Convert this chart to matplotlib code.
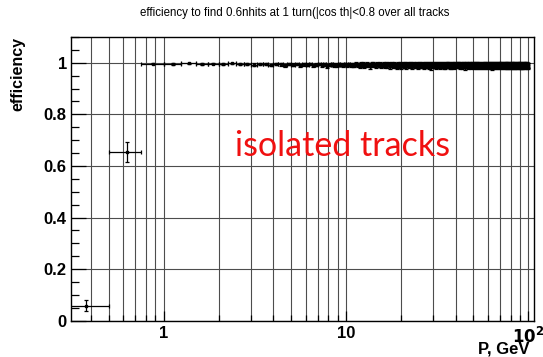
import numpy as np
import matplotlib
matplotlib.use("Agg")
import matplotlib.pyplot as plt
from matplotlib.ticker import FixedLocator, FuncFormatter, LogLocator, NullFormatter

# ── Data ──────────────────────────────────────────────────────────────────────

# momentum histogram: fixed 0.25 GeV bins starting at 0.25 GeV
p_first = 0.25
p_bin = 0.25

# two lowest bins (0.25-0.5, 0.5-0.75 GeV)
low_eff = [0.058, 0.653]
low_err = [0.021, 0.039]

# bins from 0.75 GeV up to 100 GeV: inefficiency and error in per mille
deficit_pm = [
    3, 4, 2, 5, 3, 4, 2, 6, 4, 7, 3, 5, 8, 4, 6, 10, 5, 7, 4, 9,
    6, 8, 5, 10, 7, 4, 9, 6, 11, 7, 5, 8, 10, 6, 7, 9, 5, 8, 6, 10,
    7, 9, 6, 8, 11, 5, 7, 10, 8, 6, 9, 12, 7, 5, 8, 10, 6, 9, 7, 11,
    8, 6, 10, 7, 9, 5, 12, 8, 6, 9, 7, 10, 8, 11, 6, 9, 7, 13, 8, 6,
    9, 7, 11, 6, 8, 10, 7, 9, 5, 12, 8, 7, 10, 6, 9, 8, 11, 7, 9, 6,
    10, 8, 6, 9, 12, 7, 8, 10, 6, 9, 11, 7, 8, 14, 6, 9, 7, 10, 8, 9,
    7, 11, 8, 6, 10, 9, 7, 12, 8, 9, 6, 10, 8, 7, 11, 9, 6, 13, 8, 7,
    9, 6, 10, 8, 7, 11, 9, 8, 12, 6, 9, 10, 7, 8, 11, 6, 9, 8, 10, 7,
    8, 10, 7, 9, 6, 12, 8, 10, 7, 9, 11, 6, 8, 9, 10, 7, 15, 8, 9, 6,
    10, 7, 9, 8, 11, 6, 9, 10, 8, 7, 12, 9, 6, 10, 8, 9, 7, 11, 8, 10,
    7, 9, 11, 8, 6, 10, 9, 7, 12, 8, 9, 10, 6, 8, 11, 7, 9, 8, 10, 13,
    9, 8, 6, 10, 9, 7, 11, 8, 10, 6, 9, 8, 12, 7, 9, 10, 8, 6, 11, 9,
    8, 10, 9, 7, 11, 8, 6, 9, 10, 8, 14, 7, 9, 8, 10, 6, 9, 11, 8, 7,
    10, 8, 9, 11, 7, 9, 8, 10, 6, 9, 12, 8, 7, 10, 9, 8, 11, 7, 9, 10,
    7, 9, 10, 8, 12, 6, 9, 8, 10, 9, 7, 11, 8, 9, 6, 10, 8, 12, 9, 7,
    9, 11, 8, 7, 10, 9, 8, 13, 7, 9, 10, 8, 6, 11, 9, 8, 10, 7, 9, 12,
    8, 7, 10, 9, 8, 11, 7, 9, 10, 8, 6, 12, 9, 8, 10, 7, 9, 11, 8, 9,
    10, 9, 7, 11, 8, 9, 10, 6, 9, 8, 12, 7, 10, 9, 8, 11, 9, 7, 10, 8,
    9, 8, 11, 7, 10, 9, 8, 12, 9, 7, 10, 8, 9, 11, 7, 9, 10,
    8, 10, 9, 7, 11, 8, 9, 10, 7, 9, 8, 12, 9, 8, 10, 7, 9, 11, 8, 10,
]
err_pm = [
    3, 3, 3, 4, 3, 4, 3, 4, 4, 5, 4, 4, 5, 4, 5, 6, 5, 5, 4, 6,
    5, 6, 5, 7, 6, 5, 7, 6, 8, 7, 6, 7, 8, 7, 7, 8, 6, 7, 7, 8,
    8, 9, 8, 9, 10, 8, 9, 10, 9, 8, 9, 11, 9, 8, 9, 10, 8, 9, 9, 11,
    9, 8, 11, 9, 10, 8, 12, 9, 8, 10, 9, 11, 9, 12, 8, 10, 9, 12, 9, 8,
    10, 9, 12, 8, 9, 11, 9, 10, 8, 12, 9, 9, 11, 8, 10, 9, 12, 9, 10, 8,
    11, 9, 8, 10, 12, 9, 9, 11, 8, 10, 12, 9, 9, 13, 8, 10, 9, 11, 9, 10,
    9, 12, 9, 8, 11, 10, 9, 12, 9, 10, 8, 11, 9, 9, 12, 10, 8, 13, 9, 9,
    10, 8, 11, 9, 9, 12, 10, 9, 12, 8, 10, 11, 9, 9, 12, 8, 10, 9, 11, 9,
    9, 11, 9, 10, 8, 12, 9, 11, 9, 10, 12, 8, 9, 10, 11, 9, 14, 9, 10, 8,
    11, 9, 10, 9, 12, 8, 10, 11, 9, 9, 12, 10, 8, 11, 9, 10, 9, 12, 9, 11,
    9, 10, 12, 9, 8, 11, 10, 9, 12, 9, 10, 11, 8, 9, 12, 9, 10, 9, 11, 13,
    10, 9, 8, 11, 10, 9, 12, 9, 11, 8, 10, 9, 12, 9, 10, 11, 9, 8, 12, 10,
    9, 11, 10, 9, 12, 9, 8, 10, 11, 9, 13, 9, 10, 9, 11, 8, 10, 12, 9, 9,
    11, 9, 10, 12, 9, 10, 9, 11, 8, 10, 12, 9, 9, 11, 10, 9, 12, 9, 10, 11,
    9, 10, 11, 9, 12, 8, 10, 9, 11, 10, 9, 12, 9, 10, 8, 11, 9, 12, 10, 9,
    10, 12, 9, 9, 11, 10, 9, 13, 9, 10, 11, 9, 8, 12, 10, 9, 11, 9, 10, 12,
    9, 9, 11, 10, 9, 12, 9, 10, 11, 9, 8, 12, 10, 9, 11, 9, 10, 12, 9, 10,
    11, 10, 9, 12, 9, 10, 11, 8, 10, 9, 12, 9, 11, 10, 9, 12, 10, 9, 11, 9,
    10, 9, 12, 9, 11, 10, 9, 12, 10, 9, 11, 9, 10, 12, 9, 10, 11,
    9, 11, 10, 9, 12, 9, 10, 11, 9, 10, 9, 12, 10, 9, 11, 9, 10, 12, 9, 11,
]

y_ticks = [0, 0.2, 0.4, 0.6, 0.8, 1.0]
x_major = [1, 10, 100]
x_labels = {1: "1", 10: "10", 100: r"$\mathbf{10^{2}}$"}

eff = np.concatenate([low_eff, 1 - np.array(deficit_pm) / 1000])
err = np.concatenate([low_err, np.array(err_pm) / 1000])
centers = p_first + p_bin * (np.arange(len(eff)) + 0.5)

# ── Figure ────────────────────────────────────────────────────────────────────

plt.rcParams["font.family"] = ["Liberation Sans", "DejaVu Sans"]
fig = plt.figure(figsize=(5.43, 3.57), dpi=100)
ax = fig.add_axes([0.1308, 0.1017, 0.8532, 0.7947])

ax.set_xscale("log")
ax.set_xlim(0.31, 108)
ax.set_ylim(0, 1.1)

ax.errorbar(centers, eff, yerr=err, xerr=p_bin / 2, fmt="s", ms=2.0,
            color="black", ecolor="black", elinewidth=0.9, capsize=1.2,
            capthick=0.9, zorder=3)

# ROOT-like axes: grid on every log tick, inward ticks on left/bottom only
ax.xaxis.set_major_locator(FixedLocator(x_major))
ax.xaxis.set_minor_locator(LogLocator(base=10, subs=np.arange(2, 10)))
ax.xaxis.set_major_formatter(FuncFormatter(lambda v, _: x_labels.get(int(round(v)), "")))
ax.xaxis.set_minor_formatter(NullFormatter())
ax.yaxis.set_major_locator(FixedLocator(y_ticks))
ax.yaxis.set_minor_locator(FixedLocator(np.arange(0, 1.101, 0.05)))
ax.yaxis.set_major_formatter(FuncFormatter(lambda v, _: f"{v:g}"))

ax.grid(which="both", axis="x", color="0.3", linewidth=0.8)
ax.grid(which="major", axis="y", color="0.3", linewidth=0.8)
ax.set_axisbelow(True)

ax.tick_params(which="both", direction="in", top=False, right=False,
               width=0.9, color="black")
ax.tick_params(axis="y", which="major", length=11, pad=3)
ax.tick_params(axis="y", which="minor", length=6)
ax.tick_params(axis="x", which="major", length=7, pad=4)
ax.tick_params(axis="x", which="minor", length=4)
for lab in ax.get_xticklabels() + ax.get_yticklabels():
    lab.set_fontweight("bold")
    lab.set_fontsize(12)
for sp in ax.spines.values():
    sp.set_linewidth(1.0)

fig.text(0.543, 1 - 13 / 357,
         "efficiency to find 0.6nhits at 1 turn(|cos th|<0.8 over all tracks",
         ha="center", va="center", fontsize=8.3)
fig.text(18 / 543, 1 - 37 / 357, "efficiency", rotation=90, ha="center",
         va="top", fontsize=11.5, fontweight="bold")
fig.text(530 / 543, 1 - 356.5 / 357, "P, GeV", ha="right", va="bottom",
         fontsize=12, fontweight="bold")
fig.text(235 / 543, 1 - 156 / 357, "isolated tracks", ha="left",
         va="baseline", fontsize=24.5, color="#f01010", family=["Lato", "DejaVu Sans"])

fig.savefig("out.png", dpi=100)
